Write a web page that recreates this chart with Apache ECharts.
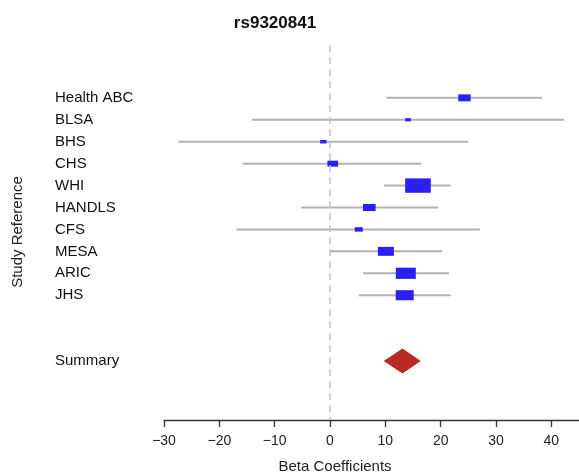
<!DOCTYPE html>
<html>
<head>
<meta charset="utf-8">
<script src="https://cdn.jsdelivr.net/npm/echarts@6/dist/echarts.min.js"></script>
<style>html,body{margin:0;padding:0;background:#fff;}#c{width:579px;height:474px;}</style>
</head>
<body>
<div id="c"></div>
<script>
// ---- data ----
var studies   = ['Health ABC','BLSA','BHS','CHS','WHI','HANDLS','CFS','MESA','ARIC','JHS'];
var estimate  = [24.3, 14.1, -1.2, 0.5, 15.9, 7.1, 5.2, 10.1, 13.7, 13.5];
var lowerCI   = [10.2, -14.1, -27.4, -15.8, 9.8, -5.2, -16.9, 0.0, 6.0, 5.2];
var upperCI   = [38.3, 42.3, 25.0, 16.5, 21.8, 19.5, 27.1, 20.3, 21.5, 21.8];
var weight    = [12.4, 5.7, 6.3, 10.7, 25.7, 12.7, 8.0, 16.0, 20.0, 18.0];
var summaryLabel = 'Summary';
var summaryEst   = 13.1;
var summaryLower = 9.7;
var summaryUpper = 16.4;
var xTicks = [-30, -20, -10, 0, 10, 20, 30, 40];
var titleText = 'rs9320841';
var xTitle = 'Beta Coefficients';
var yTitle = 'Study Reference';

// ---- layout ----
var summaryRow = studies.length + 2;
var FONT = "'Liberation Sans', Arial, Helvetica, sans-serif";
var rowLabels = {};
studies.forEach(function (s, i) { rowLabels[i] = s; });
rowLabels[summaryRow] = summaryLabel;
var rowValues = studies.map(function (s, i) { return i; }).concat([summaryRow]);

var studyData = studies.map(function (s, i) {
  return [lowerCI[i], upperCI[i], estimate[i], i, weight[i]];
});

var chart = echarts.init(document.getElementById('c'), null, {renderer: 'canvas'});
chart.setOption({
  animation: false,
  backgroundColor: '#ffffff',
  grid: {left: 164, right: 0, top: 45, bottom: 54, containLabel: false},
  xAxis: {
    type: 'value', min: -30, max: 45, interval: 10,
    splitLine: {show: false},
    axisLine: {show: true, onZero: false, lineStyle: {color: '#333', width: 1.3}},
    axisTick: {show: true, length: 7, customValues: xTicks, lineStyle: {color: '#333', width: 1.3}},
    axisLabel: {
      customValues: xTicks, margin: 14, fontSize: 14, color: '#222', fontFamily: FONT,
      formatter: function (v) { return String(v).replace('-', '\u2212'); }
    }
  },
  yAxis: {
    type: 'value', inverse: true, min: -2.41, max: 14.69,
    splitLine: {show: false},
    axisLine: {show: false}, axisTick: {show: false},
    axisLabel: {
      customValues: rowValues, align: 'left', margin: 109, fontSize: 15,
      color: '#111', fontFamily: FONT,
      formatter: function (v) { return rowLabels[v] || ''; }
    }
  },
  graphic: [
    {type: 'text', x: 275, y: 23, style: {text: titleText, font: 'bold 17px ' + FONT, fill: '#111', textAlign: 'center', textVerticalAlign: 'middle'}},
    {type: 'text', x: 335, y: 467, style: {text: xTitle, font: '15px ' + FONT, fill: '#222', textAlign: 'center', textVerticalAlign: 'middle'}},
    {type: 'text', x: 18, y: 232, rotation: Math.PI / 2, style: {text: yTitle, font: '15px ' + FONT, fill: '#222', textAlign: 'center', textVerticalAlign: 'middle'}}
  ],
  series: [
    {
      type: 'custom',
      data: studyData,
      renderItem: function (params, api) {
        var lo = api.coord([api.value(0), api.value(3)]);
        var hi = api.coord([api.value(1), api.value(3)]);
        var c = api.coord([api.value(2), api.value(3)]);
        var w = api.value(4);
        var h = w * 0.56;
        return {
          type: 'group',
          children: [
            {type: 'line', shape: {x1: lo[0], y1: lo[1], x2: hi[0], y2: hi[1]},
             style: {stroke: '#b2b2b2', lineWidth: 2}},
            {type: 'rect', shape: {x: c[0] - w / 2, y: c[1] - h / 2, width: w, height: h},
             style: {fill: '#2b20f2'}}
          ]
        };
      },
      markLine: {
        silent: true, symbol: 'none', label: {show: false},
        lineStyle: {color: '#c4c4c4', type: [7, 5], width: 1.5},
        data: [{xAxis: 0}]
      },
      z: 3
    },
    {
      type: 'custom',
      data: [[summaryLower, summaryUpper, summaryEst, summaryRow]],
      renderItem: function (params, api) {
        var lo = api.coord([api.value(0), api.value(3)]);
        var hi = api.coord([api.value(1), api.value(3)]);
        var c = api.coord([api.value(2), api.value(3)]);
        var hh = 12.5;
        return {
          type: 'polygon',
          shape: {points: [[lo[0], lo[1]], [c[0], c[1] - hh], [hi[0], hi[1]], [c[0], c[1] + hh]]},
          style: {fill: '#b82a22'}
        };
      },
      z: 3
    }
  ]
});
</script>
</body>
</html>
